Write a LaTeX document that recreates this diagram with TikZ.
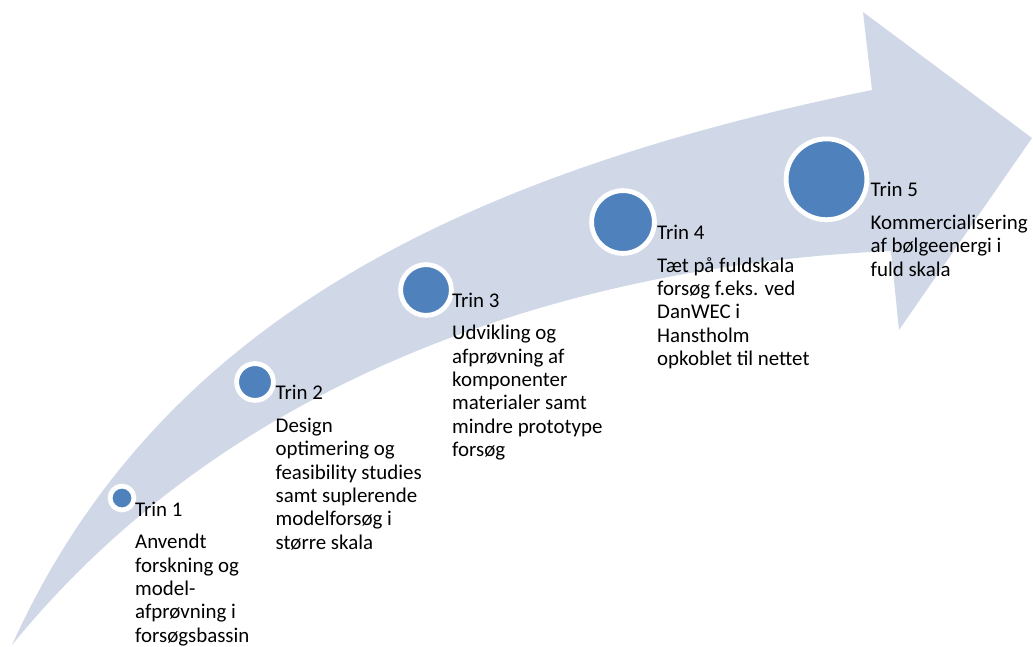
\documentclass[tikz,border=0pt]{standalone}
\usepackage{fontspec}
\setmainfont{Carlito}
\definecolor{bandcol}{RGB}{208,216,232}
\definecolor{dotcol}{RGB}{79,129,189}
\tikzset{
  stepdot/.style={circle, fill=dotcol, draw=white, line width=4.8pt, inner sep=0pt},
  steplabel/.style={anchor=base west, inner sep=0pt, font=\fontsize{20.9}{23.4}\selectfont},
  stepbody/.style={anchor=north west, inner sep=0pt, align=left, font=\fontsize{20.9}{23.4}\selectfont},
}
\begin{document}
\begin{tikzpicture}[x=1pt,y=-1pt]
\useasboundingbox (0,0) rectangle (1033,646);
% curved arrow band
\fill[bandcol] (12,645) .. controls (150,340) and (430,180) .. (872,90)
  -- (863,12) -- (1032,138) -- (899,330) -- (891,251)
  .. controls (640,262) and (260,340) .. (12,645) -- cycle;
% dots
\node[stepdot, minimum size=23.8pt] (c1) at (122,498) {};
\node[stepdot, minimum size=36.8pt] (c2) at (255,382) {};
\node[stepdot, minimum size=50.8pt] (c3) at (426,290) {};
\node[stepdot, minimum size=62.8pt] (c4) at (623,222) {};
\node[stepdot, minimum size=80.8pt] (c5) at (826.5,179.3) {};
% labels
\node[steplabel] (t1) at (135,516) {Trin 1};
\node[steplabel] (t2) at (275.5,399.5) {Trin 2};
\node[steplabel] (t3) at (452,307) {Trin 3};
\node[steplabel] (t4) at (657,239.3) {Trin 4};
\node[steplabel] (t5) at (870.5,196.7) {Trin 5};
% descriptions
\node[stepbody] (b1) at ([yshift=-16.2pt]t1.base west) {\strut Anvendt\\forskning og\\model-\\afprøvning i\\forsøgsbassin};
\node[stepbody] (b2) at ([yshift=-16.2pt]t2.base west) {\strut Design\\optimering og\\feasibility studies\\samt suplerende\\modelforsøg i\\større skala};
\node[stepbody] (b3) at ([yshift=-16.2pt]t3.base west) {\strut Udvikling og\\afprøvning af\\komponenter\\materialer samt\\mindre prototype\\forsøg};
\node[stepbody] (b4) at ([yshift=-16.2pt]t4.base west) {\strut Tæt på fuldskala\\forsøg f.eks. ved\\DanWEC i\\Hanstholm\\opkoblet til nettet};
\node[stepbody] (b5) at ([yshift=-16.2pt]t5.base west) {\strut Kommercialisering\\af bølgeenergi i\\fuld skala};
\end{tikzpicture}
\end{document}
